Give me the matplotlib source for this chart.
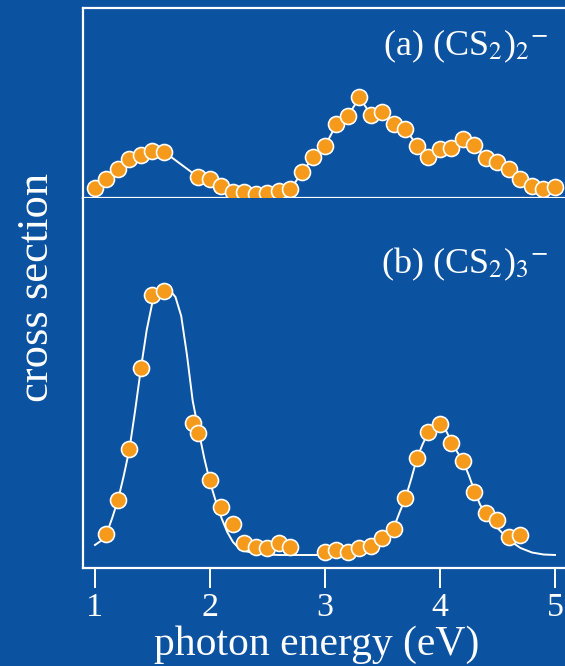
import matplotlib
matplotlib.use('Agg')
from matplotlib import pyplot as plt

# photodetachment cross sections, arbitrary units
energy_a = [1.0, 1.1, 1.2, 1.3, 1.4, 1.5, 1.6, 1.9, 2.0, 2.1, 2.2, 2.3, 2.4,
            2.5, 2.6, 2.7, 2.8, 2.9, 3.0, 3.1, 3.2, 3.3, 3.4, 3.5, 3.6, 3.7,
            3.8, 3.9, 4.0, 4.1, 4.2, 4.3, 4.4, 4.5, 4.6, 4.7, 4.8, 4.9, 5.0]
sigma_a = [0.87, 1.83, 2.77, 3.83, 4.17, 4.63, 4.53, 1.97, 1.77, 1.10, 0.53,
           0.47, 0.27, 0.43, 0.60, 0.77, 2.47, 3.98, 5.10, 7.27, 8.10, 9.97,
           8.20, 8.50, 7.27, 6.83, 5.13, 4.03, 4.77, 4.87, 5.83, 5.17, 3.90,
           3.50, 2.77, 1.80, 1.10, 0.77, 1.03]

energy_b = [1.1, 1.2, 1.3, 1.4, 1.5, 1.6, 1.85, 1.9, 2.0, 2.1, 2.2, 2.3, 2.4,
            2.5, 2.6, 2.7, 3.0, 3.1, 3.2, 3.3, 3.4, 3.5, 3.6, 3.7, 3.8, 3.9,
            4.0, 4.1, 4.2, 4.3, 4.4, 4.5, 4.6, 4.7]
sigma_b = [2.1, 5.5, 10.6, 18.7, 26.0, 26.4, 13.2, 12.2, 7.5, 4.8, 3.1, 1.2,
           0.8, 0.7, 1.2, 0.8, 0.3, 0.5, 0.3, 0.7, 0.9, 1.7, 2.6, 5.7, 9.7,
           12.3, 13.1, 11.2, 9.4, 6.3, 4.2, 3.5, 1.8, 2.0]

# fitted curve for the trimer
fit_e = [1.00, 1.05, 1.10, 1.15, 1.20, 1.25, 1.30, 1.35, 1.40, 1.45, 1.50,
         1.55, 1.60, 1.65, 1.70, 1.75, 1.80, 1.85, 1.90, 1.95, 2.00, 2.05,
         2.10, 2.15, 2.20, 2.25, 2.30, 2.40, 2.50, 2.60, 3.10, 3.20, 3.30,
         3.40, 3.50, 3.60, 3.65, 3.70, 3.75, 3.80, 3.85, 3.90, 3.95, 4.00,
         4.05, 4.10, 4.15, 4.20, 4.25, 4.30, 4.35, 4.40, 4.45, 4.50, 4.60,
         4.70, 4.80, 4.90, 5.00]
fit_s = [1.0, 1.4, 2.1, 3.7, 5.5, 7.9, 10.6, 14.5, 18.7, 22.5, 25.3,
         26.3, 26.6, 26.5, 25.8, 23.9, 20.0, 15.4, 12.5, 9.7, 7.3, 5.4,
         3.7, 2.3, 1.3, 0.7, 0.4, 0.15, 0.05, 0.0, 0.0, 0.1, 0.4,
         0.9, 1.7, 2.8, 4.3, 5.7, 7.6, 9.7, 11.1, 12.3, 12.9, 13.1,
         12.5, 11.3, 10.3, 9.4, 8.0, 6.4, 5.0, 4.2, 3.5, 2.7, 1.5,
         0.7, 0.25, 0.05, 0.0]

bg = '#0b52a0'
orange = '#f59a1a'

plt.rcParams['font.family'] = ['Liberation Serif', 'DejaVu Serif']
plt.rcParams['mathtext.fontset'] = 'stix'

fig = plt.figure(figsize=(5.65, 6.66), dpi=100, facecolor=bg)
left, right = 83 / 565, 1.0
ax_a = fig.add_axes([left, 1 - 198 / 666, right - left, 190 / 666])
ax_b = fig.add_axes([left, 1 - 568 / 666, right - left, 370 / 666])

marker = dict(marker='o', ms=11.5, mfc=orange, mec='white', mew=1.2,
              ls='none', zorder=5, clip_on=False)

ax_a.plot(energy_a, sigma_a, color='white', lw=1.4, zorder=3)
ax_a.plot(energy_a, sigma_a, **marker)
ax_a.set_ylim(-0.1, 18.9)

ax_b.plot(fit_e, fit_s, color='white', lw=1.4, zorder=3)
ax_b.plot(energy_b, sigma_b, **marker)
ax_b.set_ylim(-1.3, 35.7)

for ax in (ax_a, ax_b):
    ax.set_facecolor(bg)
    ax.set_xlim(0.896, 5.087)
    ax.set_yticks([])
    ax.spines['right'].set_visible(False)
    for s in ('left', 'top', 'bottom'):
        ax.spines[s].set_color('white')
        ax.spines[s].set_linewidth(1.6)

ax_b.spines['top'].set_visible(False)
ax_a.set_xticks([])
ax_b.set_xticks([1, 2, 3, 4, 5])
ax_b.tick_params(axis='x', direction='out', length=14.5, width=1.4,
                 colors='white', labelsize=24.5, pad=3)
ax_b.set_xlabel('photon energy (eV)', color='white', fontsize=30)
ax_b.xaxis.set_label_coords(0.484, -0.156)

ax_a.text(0.965, 0.80, r'(a) (CS$_2$)$_2$$^{-}$', transform=ax_a.transAxes,
          ha='right', va='center', color='white', fontsize=26)
ax_b.text(0.965, 0.82, r'(b) (CS$_2$)$_3$$^{-}$', transform=ax_b.transAxes,
          ha='right', va='center', color='white', fontsize=26)

fig.text(37 / 565, 1 - 288 / 666, 'cross section', rotation=90,
         ha='center', va='center', color='white', fontsize=32)

plt.savefig('out.png', facecolor=bg)
